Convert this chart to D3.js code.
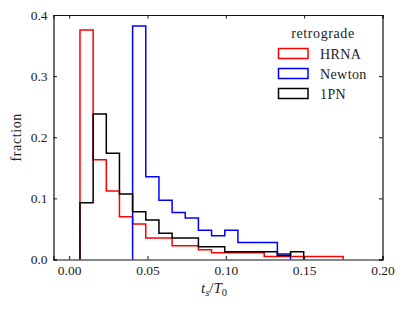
<!DOCTYPE html>
<html>
<head>
<meta charset="utf-8">
<script src="https://cdn.jsdelivr.net/npm/d3@7"></script>
<style>
  body { margin: 0; background: #fff; }
  text { font-family: 'Liberation Serif', 'DejaVu Serif', serif; fill: #222; }
</style>
</head>
<body>
<div class="chart"></div>
<script>
'use strict'

// shared bin edges (t_s / T_0)
const binEdges = [0.0069, 0.0153, 0.0237, 0.0321, 0.0405, 0.0489, 0.0573, 0.0657, 0.0741, 0.0825,
  0.0909, 0.0993, 0.1077, 0.1161, 0.1245, 0.1329, 0.1413, 0.1497, 0.1581, 0.1665, 0.1749]

const seriesNames = ['HRNA', 'Newton', '1PN']
const seriesColors = ['#ff0000', '#0000ff', '#000000']
const firstBin = [0, 4, 0]

const hrna = [0.3755, 0.163, 0.112, 0.070, 0.058, 0.035, 0.035, 0.0226, 0.0226, 0.016,
  0.011, 0.011, 0.011, 0.011, 0.005, 0.005, 0.005, 0.005, 0.005, 0.005]
const newton = [0.382, 0.1355, 0.097, 0.077, 0.068, 0.048, 0.039, 0.048, 0.028, 0.028, 0.028, 0.009]
const pn1 = [0.093, 0.238, 0.174, 0.107, 0.078, 0.0646, 0.043, 0.035, 0.035, 0.021, 0.021,
  0.0128, 0.0128, 0.0128, 0.0128, 0.0064, 0.0128]

const xTicks = [0.00, 0.05, 0.10, 0.15, 0.20]
const yTicks = [0.0, 0.1, 0.2, 0.3, 0.4]

const width = 406
const height = 310
const margin = { top: 15, right: 23.5, bottom: 50.5, left: 53.5 }

const svg = d3.select('.chart').append('svg')
  .attr('width', width)
  .attr('height', height)

const x = d3.scaleLinear().domain([-0.01, 0.20]).range([margin.left, width - margin.right])
const y = d3.scaleLinear().domain([0, 0.4]).range([height - margin.bottom, margin.top])

// histogram outlines, step style
const allSeries = [hrna, newton, pn1]
allSeries.forEach(function (vals, k) {
  const pts = []
  const s = firstBin[k]
  pts.push([x(binEdges[s]), y(0)])
  vals.forEach(function (v, i) {
    pts.push([x(binEdges[s + i]), y(v)])
    pts.push([x(binEdges[s + i + 1]), y(v)])
  })
  pts.push([x(binEdges[s + vals.length]), y(0)])
  svg.append('path')
    .attr('d', d3.line()(pts))
    .attr('fill', 'none')
    .attr('stroke', seriesColors[k])
    .attr('stroke-width', 1.5)
    .attr('stroke-linejoin', 'miter')
})

// axes with inward ticks on all sides
const tickLen = 3.5
const fmtX = d3.format('.2f')
const fmtY = d3.format('.1f')

svg.append('g')
  .attr('transform', 'translate(0,' + y(0) + ')')
  .call(d3.axisBottom(x).tickValues(xTicks).tickSize(-tickLen).tickPadding(6).tickFormat(fmtX))
svg.append('g')
  .attr('transform', 'translate(0,' + y(0.4) + ')')
  .call(d3.axisTop(x).tickValues(xTicks).tickSize(-tickLen).tickFormat(''))
svg.append('g')
  .attr('transform', 'translate(' + x(-0.01) + ',0)')
  .call(d3.axisLeft(y).tickValues(yTicks).tickSize(-tickLen).tickPadding(6).tickFormat(fmtY))
svg.append('g')
  .attr('transform', 'translate(' + x(0.20) + ',0)')
  .call(d3.axisRight(y).tickValues(yTicks).tickSize(-tickLen).tickFormat(''))

svg.selectAll('.domain').attr('stroke', '#111').attr('stroke-width', 1.2)
svg.selectAll('.tick line').attr('stroke', '#111').attr('stroke-width', 1)
svg.selectAll('.tick text')
  .style('font-family', "'Liberation Serif', 'DejaVu Serif', serif")
  .style('font-size', '13.5px')
  .attr('fill', '#222')

// axis labels
const xl = svg.append('text')
  .attr('x', 214)
  .attr('y', 293)
  .attr('text-anchor', 'middle')
  .style('font-size', '15px')
xl.append('tspan').style('font-style', 'italic').text('t')
xl.append('tspan').style('font-style', 'italic').style('font-size', '10.5px').attr('dy', 2.5).text('s')
xl.append('tspan').attr('dy', -2.5).text('/')
xl.append('tspan').style('font-style', 'italic').text('T')
xl.append('tspan').style('font-size', '10.5px').attr('dy', 2.5).text('0')

svg.append('text')
  .attr('transform', 'translate(21,' + y(0.2) + ') rotate(-90)')
  .attr('text-anchor', 'middle')
  .style('font-size', '14px')
  .style('letter-spacing', '0.6px')
  .text('fraction')

// legend
const legend = svg.append('g').attr('transform', 'translate(278,48)')
legend.append('text')
  .attr('x', 45)
  .attr('y', -10)
  .attr('text-anchor', 'middle')
  .style('font-size', '14px')
  .style('letter-spacing', '0.6px')
  .text('retrograde')
seriesNames.forEach(function (name, i) {
  const row = legend.append('g').attr('transform', 'translate(0,' + i * 20 + ')')
  row.append('rect')
    .attr('x', 0.5).attr('y', 0.5)
    .attr('width', 29.5).attr('height', 10)
    .attr('fill', 'none')
    .attr('stroke', seriesColors[i])
    .attr('stroke-width', 1.5)
  row.append('text')
    .attr('x', 42)
    .attr('y', 11)
    .style('font-size', '14px')
    .style('letter-spacing', '0.4px')
    .text(name)
})
</script>
</body>
</html>
